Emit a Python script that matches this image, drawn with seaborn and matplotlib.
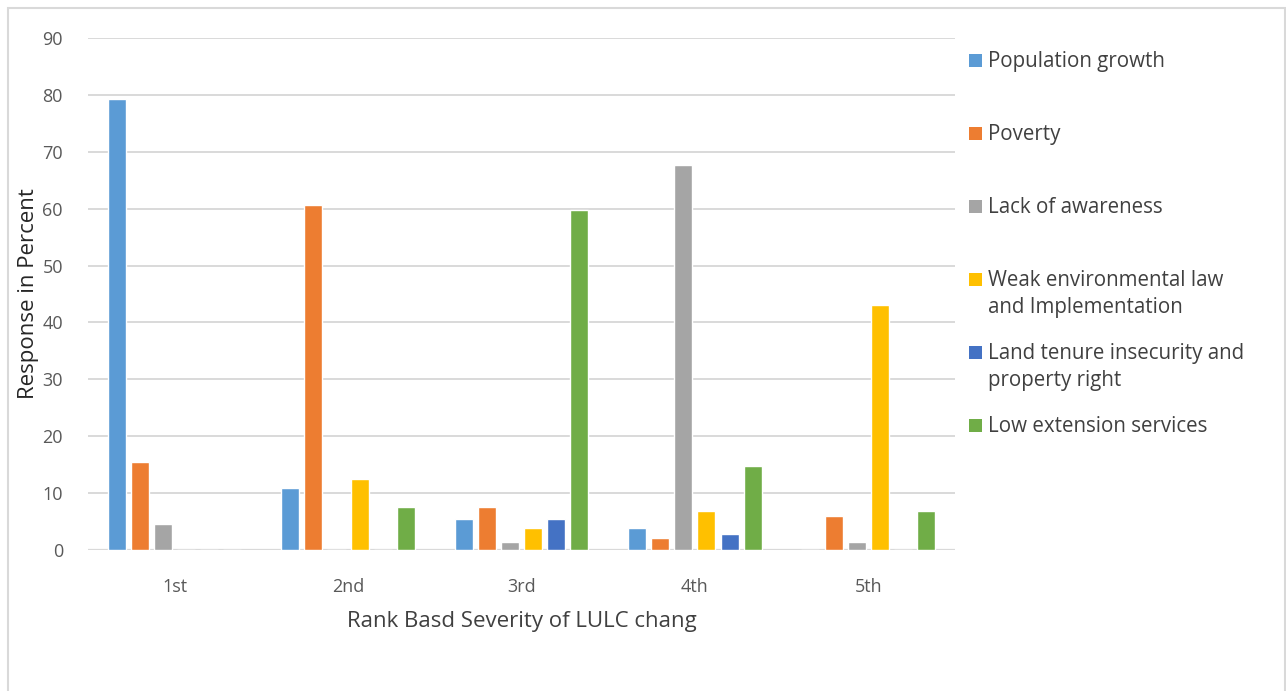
import matplotlib
matplotlib.use("Agg")
import matplotlib.pyplot as plt
import matplotlib.patches as mpatches
import seaborn as sns
import pandas as pd

ranks = ["1st", "2nd", "3rd", "4th", "5th"]
causes = [
    "Population growth",
    "Poverty",
    "Lack of awareness",
    "Weak environmental law\nand Implementation",
    "Land tenure insecurity and\nproperty right",
    "Low extension services",
]
population_growth = [79.3, 10.9, 5.4, 3.8, 0.0]
poverty = [15.5, 60.6, 7.5, 2.2, 6.0]
lack_of_awareness = [4.5, 0.0, 1.4, 67.7, 1.4]
weak_law = [0.0, 12.4, 3.8, 6.9, 43.1]
land_tenure = [0.0, 0.0, 5.4, 2.9, 0.0]
low_extension = [0.0, 7.5, 59.8, 14.8, 6.9]
yticks = [0, 10, 20, 30, 40, 50, 60, 70, 80, 90]

colors = ["#5B9BD5", "#ED7D31", "#A5A5A5", "#FFC000", "#4472C4", "#70AD47"]
series = [population_growth, poverty, lack_of_awareness, weak_law, land_tenure, low_extension]

rows = []
for cause, vals in zip(causes, series):
    for r, v in zip(ranks, vals):
        rows.append({"Rank": r, "Cause": cause, "Percent": v})
df = pd.DataFrame(rows)

sns.set_style("white")
plt.rcParams["font.family"] = ["Open Sans", "DejaVu Sans"]

fig = plt.figure(figsize=(12.86, 6.91), dpi=100)
ax = fig.add_axes([0.0684, 0.204, 0.6742, 0.741])

sns.barplot(data=df, x="Rank", y="Percent", hue="Cause", order=ranks,
            hue_order=causes, palette=colors, width=0.8, gap=0.22,
            ax=ax, legend=False, saturation=1)

ax.set_ylim(0, 90)
ax.set_yticks(yticks)
ax.set_xlim(-0.5, len(ranks) - 0.5)
ax.grid(axis="y", color="#D9D9D9", linewidth=1.4)
ax.set_axisbelow(True)
for s in ax.spines.values():
    s.set_visible(False)
ax.axhline(0, color="#D9D9D9", linewidth=1.6, zorder=0.5)
ax.tick_params(axis="both", length=0, labelsize=13, colors="#595959")
ax.tick_params(axis="y", pad=18)
ax.tick_params(axis="x", pad=20)
ax.set_xlabel("Rank Basd Severity of LULC chang", fontsize=16, color="#404040", labelpad=11)
ax.set_ylabel("Response in Percent", fontsize=16, color="#262626")
ax.yaxis.set_label_coords(-0.056, 0.5)

# Legend entries stacked at equal steps on the right
W, H = 1286, 691
top0, step = 50, 73
for i, (cause, c) in enumerate(zip(causes, colors)):
    ytop = top0 + i * step
    fig.patches.append(mpatches.Rectangle((969 / W, 1 - (ytop + 17) / H), 13 / W, 13 / H,
                                          transform=fig.transFigure, facecolor=c,
                                          edgecolor="none"))
    fig.text(988 / W, 1 - (ytop + 1) / H, cause, fontsize=14.8, color="#404040",
             va="top", ha="left", linespacing=1.35)

# Outer chart frame
fig.patches.append(mpatches.Rectangle((8 / W, -0.01), (W - 9) / W, 1 - 8 / H + 0.01,
                                      transform=fig.transFigure, facecolor="none",
                                      edgecolor="#D9D9D9", linewidth=1.5))

fig.savefig("out.png", dpi=100)
